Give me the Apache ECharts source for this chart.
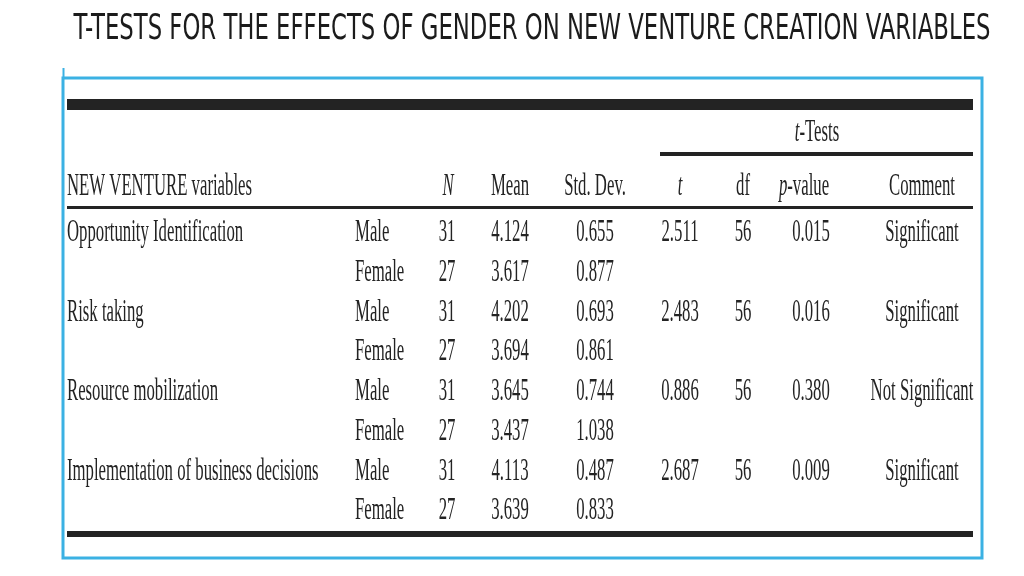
<!DOCTYPE html>
<html><head><meta charset="utf-8">
<script src="https://cdn.jsdelivr.net/npm/echarts@6/dist/echarts.min.js"></script>
<style>html,body{margin:0;padding:0;background:#fff}#c{width:1024px;height:576px}</style>
</head><body><div id="c"></div>
<script>
// ---- data ----
const title = 'T-TESTS FOR THE EFFECTS OF GENDER ON NEW VENTURE CREATION VARIABLES';
const variables = ['Opportunity Identification', 'Risk taking', 'Resource mobilization', 'Implementation of business decisions'];
const genders = ['Male', 'Female'];
const nMale = [31, 31, 31, 31];
const nFemale = [27, 27, 27, 27];
const meanMale = [4.124, 4.202, 3.645, 4.113];
const meanFemale = [3.617, 3.694, 3.437, 3.639];
const sdMale = [0.655, 0.693, 0.744, 0.487];
const sdFemale = [0.877, 0.861, 1.038, 0.833];
const tValues = [2.511, 2.483, 0.886, 2.687];
const dfValues = [56, 56, 56, 56];
const pValues = [0.015, 0.016, 0.380, 0.009];
const comments = ['Significant', 'Significant', 'Not Significant', 'Significant'];
const groupHeader = '{i|t}-Tests';
const columnHeaders = ['NEW VENTURE variables', '', '{i|N}', 'Mean', 'Std. Dev.', '{i|t}', 'df', '{i|p}-value', 'Comment'];

// ---- layout / style ----
const colX = [67, 355, 447, 510, 595, 680, 743, 811, 922];
const headX = [67, 355, 448, 510, 595, 680, 743, 804, 922];
const colAlign = ['left', 'left', 'center', 'center', 'center', 'center', 'center', 'center', 'center'];
const SX = 0.54;
const FONT = '31px "Liberation Serif", "Times New Roman", serif';
const INK = '#232323';
const FRAME = '#3bb1e3';

// build rows
const rowKeys = [];
const cells = [];
variables.forEach((v, i) => {
  genders.forEach((g, gi) => {
    const key = v + ' - ' + g;
    rowKeys.push(key);
    const first = gi === 0;
    const vals = [
      first ? v : '',
      g,
      String(first ? nMale[i] : nFemale[i]),
      (first ? meanMale[i] : meanFemale[i]).toFixed(3),
      (first ? sdMale[i] : sdFemale[i]).toFixed(3),
      first ? tValues[i].toFixed(3) : '',
      first ? String(dfValues[i]) : '',
      first ? pValues[i].toFixed(3) : '',
      first ? comments[i] : ''
    ];
    vals.forEach((txt, ci) => {
      if (txt !== '') cells.push({ value: [colX[ci], key, ci], text: txt });
    });
  });
});

// title scale to fit width
const meas = document.createElement('canvas').getContext('2d');
const TFONT = '36px "Liberation Sans Narrow", "DejaVu Sans Condensed", sans-serif';
meas.font = TFONT;
const titleScale = 917 / meas.measureText(title).width;

function txt(x, y, text, align) {
  return {
    type: 'text', x: x, y: y, scaleX: SX, silent: true,
    style: { text: text, font: FONT, fill: INK, align: align, verticalAlign: 'middle',
      rich: { i: { fontStyle: 'italic', font: 'italic 31px "Liberation Serif", serif', fill: INK } } }
  };
}
const graphics = [
  { type: 'text', x: 532, y: 30, scaleX: titleScale, silent: true,
    style: { text: title, font: TFONT, fill: '#1b1b1b', align: 'center', verticalAlign: 'middle' } },
  { type: 'rect', shape: { x: 63, y: 78, width: 919, height: 480 }, style: { fill: 'none', stroke: FRAME, lineWidth: 3 } },
  { type: 'line', shape: { x1: 63.5, y1: 68, x2: 63.5, y2: 78 }, style: { stroke: FRAME, lineWidth: 2 } },
  { type: 'rect', shape: { x: 67, y: 99, width: 906, height: 11 }, style: { fill: INK } },
  { type: 'rect', shape: { x: 660, y: 152, width: 313, height: 4 }, style: { fill: INK } },
  { type: 'rect', shape: { x: 67, y: 206, width: 906, height: 3 }, style: { fill: INK } },
  { type: 'rect', shape: { x: 67, y: 531, width: 906, height: 6 }, style: { fill: INK } },
  txt(817, 133, groupHeader, 'center')
];
columnHeaders.forEach((h, ci) => { if (h) graphics.push(txt(headX[ci], 187, h, colAlign[ci])); });

const chart = echarts.init(document.getElementById('c'), null, { renderer: 'canvas' });
chart.setOption({
  animation: false,
  backgroundColor: '#ffffff',
  grid: { left: 0, right: 0, top: 213, bottom: 45 },
  xAxis: { type: 'value', min: 0, max: 1024, show: false },
  yAxis: { type: 'category', data: rowKeys, inverse: true, show: false },
  graphic: graphics,
  series: [{
    type: 'custom',
    clip: false,
    silent: true,
    encode: { x: 0, y: 1 },
    data: cells,
    renderItem: function (params, api) {
      const item = cells[params.dataIndex];
      const pt = api.coord([api.value(0), api.value(1)]);
      return txt(pt[0], pt[1], item.text, colAlign[item.value[2]]);
    }
  }]
});
</script></body></html>
